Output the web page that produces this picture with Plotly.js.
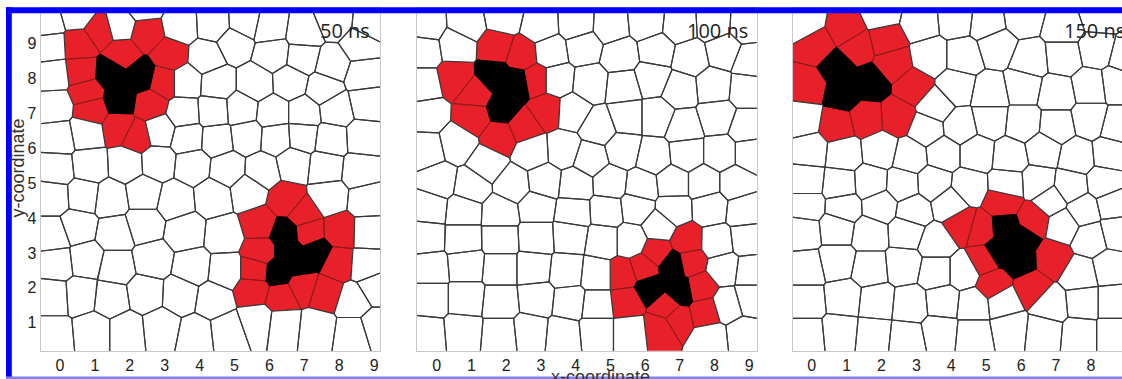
<!DOCTYPE html>
<html><head><meta charset="utf-8">
<script src="https://cdn.plot.ly/plotly-3.0.1.min.js"></script>
<style>html,body{margin:0;padding:0;background:#fff;}</style>
</head><body><div id="chart" style="width:1122px;height:379px;"></div>
<script>
// ---- data: tick labels, panel labels, Voronoi seed points ----
const xTicks = [0,1,2,3,4,5,6,7,8,9];
const yTicks = [1,2,3,4,5,6,7,8,9];
const panelLabels = ['50 ns','100 ns','150 ns'];

// Panel 1 (50 ns)
const p1White = [[-0.38,9.6],[0.5,9.85],[1.72,9.5],[2.4,10.05],[3.45,9.5],[4.4,9.55],[5.3,9.6],[6.0,9.45],[7.0,9.3],[7.85,9.65],[8.9,9.55],
 [-0.3,8.9],[4.2,8.6],[5.0,9.0],[6.1,8.7],[6.95,8.6],[7.8,8.4],[8.6,8.95],
 [-0.2,8.1],[3.6,7.9],[4.5,7.85],[5.6,7.85],[6.6,7.9],[7.55,7.7],[8.7,8.1],
 [-0.15,7.2],[3.55,7.0],[4.4,7.05],[5.2,7.1],[6.1,7.0],[7.0,7.0],[7.9,7.1],[8.8,7.3],
 [-0.05,6.3],[0.75,6.45],[2.85,6.5],[3.65,6.3],[4.5,6.25],[5.35,6.35],[6.2,6.3],[6.95,6.35],[7.75,6.25],[8.7,6.3],
 [-0.1,5.4],[0.85,5.5],[1.9,5.55],[2.8,5.6],[3.8,5.5],[4.8,5.4],[5.8,5.35],[6.7,5.55],[7.6,5.45],[8.6,5.35],
 [-0.2,4.6],[0.67,4.65],[1.45,4.55],[2.4,4.7],[3.3,4.5],[4.4,4.6],[5.4,4.75],[7.7,4.6],[8.8,4.5],
 [-0.2,3.5],[0.5,3.75],[1.6,3.55],[2.4,3.8],[3.6,3.6],[4.7,3.5],[8.85,3.6],
 [-0.1,2.7],[0.75,2.8],[1.6,2.6],[2.65,2.8],[3.8,2.6],[4.75,2.5],[8.8,2.65],
 [-0.2,1.75],[0.6,1.8],[1.45,1.7],[2.45,1.85],[3.45,1.8],[4.4,1.65],[8.4,1.6],[9.05,2.0],
 [-0.2,0.65],[0.95,0.75],[1.9,0.75],[2.9,0.85],[3.9,0.65],[4.8,0.75],[5.65,1.05],[6.4,0.95],[7.35,0.85],[8.4,0.7],[9.05,0.9]];
const p1Red = [[1.15,9.35],[2.48,9.3],[0.57,8.95],[1.77,8.7],[3.15,8.67],[0.62,8.2],[2.96,7.9],[0.78,7.6],[0.9,7.1],[2.58,7.25],[1.7,6.6],[2.2,6.35],
 [6.49,4.5],[5.73,3.81],[6.97,4.1],[7.12,3.6],[8.02,3.62],[5.75,3.04],[5.6,2.5],[7.93,2.71],[5.55,1.95],[6.35,1.75],[6.95,2.05],[7.6,1.85]];
const p1Black = [[6.45,3.55],[7.35,3.0],[6.25,2.45],[6.85,2.7],[6.55,3.05],[1.45,8.15],[2.3,8.05],[1.72,7.38]];

// Panel 2 (100 ns)
const p2White = [[-0.29,9.5],[0.87,9.55],[1.92,9.75],[2.98,9.5],[4.03,9.55],[5.0,9.5],[6.05,9.6],[7.0,9.5],[7.97,9.55],[8.93,9.5],
 [-0.38,8.8],[0.58,8.95],[3.27,8.75],[4.23,8.9],[5.28,8.65],[6.34,8.8],[7.3,8.6],[8.26,8.8],[9.03,8.5],
 [-0.38,7.8],[3.46,7.95],[4.42,7.86],[5.38,7.76],[6.2,8.0],[7.01,7.67],[7.97,7.76],[8.93,7.67],
 [-0.25,6.95],[3.9,7.05],[4.65,6.6],[5.48,6.9],[6.34,6.9],[7.11,6.6],[8.07,6.9],[8.93,6.6],
 [-0.29,5.95],[0.6,6.15],[1.45,5.55],[2.75,5.9],[3.65,5.95],[4.42,5.7],[5.38,5.95],[6.24,5.76],[7.2,5.85],[8.17,5.85],[9.03,5.85],
 [0.05,5.05],[1.0,4.9],[2.2,4.95],[3.1,5.05],[4.0,4.95],[5.0,5.0],[5.9,4.9],[6.8,5.0],[7.7,5.0],[8.6,5.0],
 [-0.2,4.3],[0.77,4.2],[1.83,4.15],[2.88,4.3],[3.94,4.15],[4.9,4.2],[5.76,4.3],[6.82,4.25],[7.88,4.3],[8.84,4.2],
 [-0.29,3.45],[0.77,3.4],[1.83,3.4],[2.88,3.45],[3.84,3.5],[4.8,3.35],[5.6,3.35],[6.4,3.75],[8.07,3.3],[8.93,3.4],
 [-0.19,2.56],[0.86,2.65],[1.83,2.56],[2.79,2.56],[3.75,2.46],[4.61,2.37],[8.26,2.56],[9.03,2.46],
 [-0.19,1.7],[0.86,1.7],[1.83,1.6],[2.88,1.7],[3.84,1.6],[4.61,1.51],[8.36,1.51],[9.03,1.7],
 [-0.29,0.65],[0.77,0.74],[1.83,0.65],[2.69,0.74],[3.65,0.65],[4.61,0.74],[5.57,0.74],[7.88,0.55],[8.84,0.65]];
const p2Red = [[1.73,8.9],[2.45,8.67],[2.85,7.95],[3.17,7.09],[2.5,6.62],[1.82,6.33],[1.06,6.9],[1.12,7.55],[0.55,8.0],
 [7.2,3.32],[6.34,3.03],[5.96,2.56],[5.38,2.37],[5.48,1.61],[7.3,2.75],[7.59,2.0],[7.73,1.32],[6.92,1.13],[6.44,0.84],[6.63,1.45]];
const p2Black = [[1.65,8.05],[2.3,7.85],[1.9,7.15],[6.82,2.65],[6.15,1.99],[7.01,1.89]];

// Panel 3 (150 ns)
const p3White = [[-0.24,9.6],[2.0,9.85],[3.1,9.6],[4.15,9.7],[5.01,9.6],[6.06,9.75],[7.21,9.45],[8.25,9.8],
 [3.39,8.62],[4.35,8.62],[5.3,8.91],[6.26,8.53],[7.21,8.62],[8.17,8.81],[9.0,8.6],
 [4.15,7.76],[5.11,7.57],[6.06,7.76],[7.02,7.57],[7.98,7.76],[8.74,7.86],[3.55,7.2],
 [-0.24,6.81],[3.3,6.55],[4.25,6.62],[5.11,6.81],[6.06,6.71],[7.02,6.62],[7.98,6.81],[8.74,6.62],
 [-0.05,5.95],[0.91,5.85],[1.96,5.95],[2.82,5.76],[3.77,5.85],[4.73,5.85],[5.68,5.76],[6.64,5.95],[7.59,5.76],[8.55,5.85],
 [-0.14,5.05],[0.8,4.95],[1.7,5.0],[2.6,4.95],[3.5,5.0],[4.5,4.9],[5.6,4.95],[6.5,5.0],[7.4,4.9],[8.4,5.0],
 [-0.14,4.35],[0.91,4.3],[1.96,4.35],[2.91,4.2],[3.96,4.4],[6.83,4.5],[7.78,4.2],[8.64,4.4],
 [-0.24,3.6],[0.72,3.7],[1.67,3.55],[2.72,3.6],[3.58,3.3],[7.21,3.8],[7.98,3.42],[8.74,3.61],
 [-0.14,2.56],[0.72,2.75],[1.67,2.56],[2.63,2.65],[3.58,2.46],[4.35,2.46],[7.69,2.37],[8.55,2.56],
 [-0.14,1.6],[0.91,1.7],[1.86,1.6],[2.82,1.51],[3.77,1.6],[4.63,1.51],[5.49,1.6],[6.83,1.51],[7.78,1.6],[8.64,1.6],
 [-0.14,0.65],[0.81,0.74],[1.77,0.65],[2.72,0.55],[3.68,0.74],[4.63,0.65],[5.68,0.84],[6.64,0.74],[7.69,0.65],[8.64,0.65]];
const p3Red = [[1.0,9.38],[0.14,8.9],[1.29,8.9],[2.15,9.1],[2.34,8.43],[2.91,7.77],[-0.12,7.8],[0.72,6.65],[1.58,6.85],[2.44,6.9],
 [4.3,3.8],[4.85,3.65],[5.49,4.45],[6.35,3.95],[6.9,2.84],[6.3,2.0],[5.21,2.1],[4.95,2.8]];
const p3Black = [[0.72,8.34],[0.91,7.57],[1.67,7.86],[5.55,3.7],[5.95,2.8],[5.35,3.05],[6.0,3.4]];

// ---- Voronoi (half-plane clipping) ----
function clipHalf(poly,a,b,c){
  const out=[];
  for(let k=0;k<poly.length;k++){
    const P=poly[k],Q=poly[(k+1)%poly.length];
    const fp=a*P[0]+b*P[1]-c, fq=a*Q[0]+b*Q[1]-c;
    if(fp<=0) out.push(P);
    if((fp<0&&fq>0)||(fp>0&&fq<0)){
      const t=fp/(fp-fq);
      out.push([P[0]+t*(Q[0]-P[0]),P[1]+t*(Q[1]-P[1])]);
    }
  }
  return out;
}
function voronoi(pts,box){
  return pts.map((p,i)=>{
    let poly=[[box[0],box[2]],[box[1],box[2]],[box[1],box[3]],[box[0],box[3]]];
    for(let j=0;j<pts.length;j++){
      if(j===i||poly.length===0) continue;
      const q=pts[j];
      poly=clipHalf(poly,2*(q[0]-p[0]),2*(q[1]-p[1]),q[0]*q[0]+q[1]*q[1]-p[0]*p[0]-p[1]*p[1]);
    }
    return poly;
  });
}
function polysToXY(polys){
  const xs=[],ys=[];
  polys.forEach(pg=>{ if(!pg.length) return;
    pg.forEach(v=>{xs.push(v[0]);ys.push(v[1]);});
    xs.push(pg[0][0]);ys.push(pg[0][1]);xs.push(null);ys.push(null);});
  return {xs,ys};
}
const BOX=[-1.5,10.5,-0.8,11];
const traces=[];
function panel(white,red,black,xa,ya){
  const all=white.concat(red,black);
  const cells=voronoi(all,BOX);
  const nW=white.length,nR=red.length;
  const groups=[
    {polys:cells.slice(nW,nW+nR),fill:'#e8202a',line:'#8e1a1a',w:1},
    {polys:cells.slice(nW+nR),fill:'#000000',line:'#000000',w:1},
    {polys:cells.slice(0,nW),fill:'#ffffff',line:'#3a3a3a',w:1.2}
  ];
  groups.forEach(g=>{
    const d=polysToXY(g.polys);
    traces.push({type:'scatter',mode:'lines',x:d.xs,y:d.ys,xaxis:xa,yaxis:ya,fill:'toself',
      fillcolor:g.fill,line:{color:g.line,width:g.w},hoverinfo:'skip',showlegend:false,connectgaps:false});
  });
}
panel(p1White,p1Red,p1Black,'x','y');
panel(p2White,p2Red,p2Black,'x2','y2');
panel(p3White,p3Red,p3Black,'x3','y3');

const W=1122,H=379;
const tickFont={family:'Liberation Sans, Arial, sans-serif',size:16,color:'#222'};
function xax(d0,d1,r0,r1,anchor){return {domain:[d0/W,d1/W],range:[r0,r1],anchor:anchor,tickvals:xTicks,ticktext:xTicks.map(String),
  showgrid:false,zeroline:false,showline:true,mirror:true,linecolor:'#c8c8c8',linewidth:1,ticks:'',tickfont:tickFont,fixedrange:true};}
function yax(anchor,show){return {domain:[1-350.7/H,1-8.4/H],range:[0.2,10],anchor:anchor,tickvals:yTicks,ticktext:yTicks.map(String),
  showticklabels:show,showgrid:false,zeroline:false,showline:true,mirror:true,linecolor:'#c8c8c8',linewidth:1,ticks:'',tickfont:tickFont,fixedrange:true};}

const labelFont={family:'Open Sans, sans-serif',size:20,color:'#222'};
const layout={width:W,height:H,margin:{l:0,r:0,t:0,b:0},paper_bgcolor:'#fff',plot_bgcolor:'#fff',showlegend:false,hovermode:false,
  xaxis:xax(40.7,380,-0.553,9.169,'y'),
  xaxis2:xax(416.7,756.7,-0.576,9.214,'y2'),
  xaxis3:xax(792.7,1122,-0.544,8.891,'y3'),
  yaxis:yax('x',true),yaxis2:yax('x2',false),yaxis3:yax('x3',false),
  annotations:[
    {text:panelLabels[0],xref:'paper',yref:'paper',x:318/W,y:1-30/H,xanchor:'left',yanchor:'middle',showarrow:false,font:labelFont},
    {text:panelLabels[1],xref:'paper',yref:'paper',x:685/W,y:1-30/H,xanchor:'left',yanchor:'middle',showarrow:false,font:labelFont},
    {text:panelLabels[2],xref:'paper',yref:'paper',x:1061.5/W,y:1-30/H,xanchor:'left',yanchor:'middle',showarrow:false,font:labelFont},
    {text:'y-coordinate',xref:'paper',yref:'paper',x:17.5/W,y:1-168/H,xanchor:'center',yanchor:'middle',textangle:-90,showarrow:false,
     font:{family:'Liberation Sans, Arial, sans-serif',size:18,color:'#333'}},
    {text:'x-coordinate',xref:'paper',yref:'paper',x:600.5/W,y:1-364.5/H,xanchor:'center',yanchor:'top',showarrow:false,
     font:{family:'Liberation Sans, Arial, sans-serif',size:18,color:'#333'}}
  ],
  shapes:[
    {type:'rect',xref:'paper',yref:'paper',x0:6/W,x1:1.01,y0:1-13.3/H,y1:1-7.3/H,fillcolor:'#0000ff',line:{width:0},layer:'above'},
    {type:'rect',xref:'paper',yref:'paper',x0:6/W,x1:11.8/W,y0:1-377/H,y1:1-7.3/H,fillcolor:'#0000ff',line:{width:0},layer:'above'},
    {type:'rect',xref:'paper',yref:'paper',x0:6/W,x1:1.01,y0:-0.01,y1:1-376.5/H,fillcolor:'#8080ff',line:{width:0},layer:'above'}
  ]
};
Plotly.newPlot('chart',traces,layout,{staticPlot:true,displayModeBar:false});
</script></body></html>
